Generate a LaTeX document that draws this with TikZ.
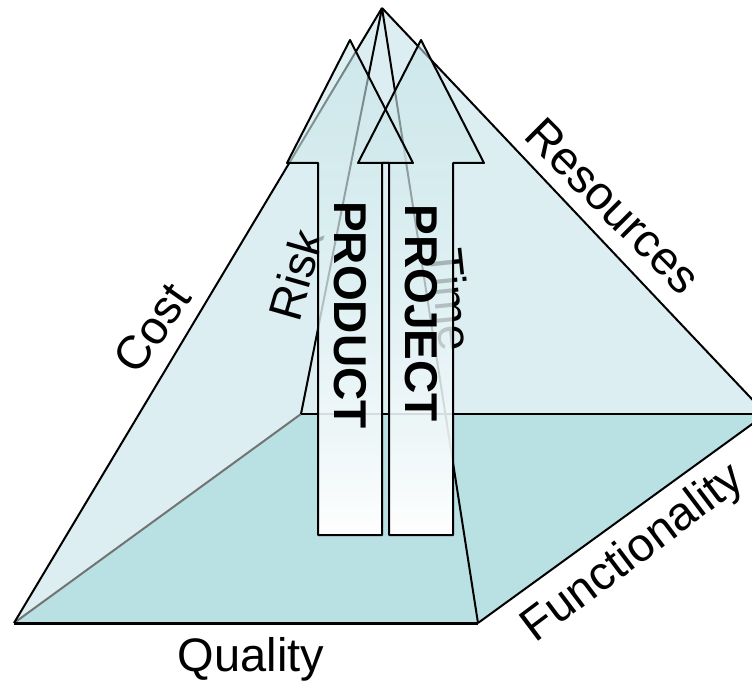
\documentclass[tikz,border=0pt]{standalone}
\usepackage{fontspec}
\setmainfont{Liberation Sans}
\usetikzlibrary{fadings}
\definecolor{facecol}{RGB}{220,238,241}
\definecolor{basecol}{RGB}{185,224,226}
\definecolor{headcol}{RGB}{196,228,232}
\tikzfading[name=arrowfade, top color=transparent!45, bottom color=transparent!0]
\begin{document}
\begin{tikzpicture}[x=1pt, y=-1pt, line join=round,
    edge/.style = {draw=black, line width=2pt},
    hidden/.style = {draw=black!55, line width=2pt},
    lbl/.style = {inner sep=0pt, font=\fontsize{47}{56}\selectfont},
    big/.style = {inner sep=0pt, font=\fontsize{46}{56}\selectfont\bfseries, rotate=-90},
    body/.style = {top color=headcol, bottom color=white, path fading=arrowfade, fit fading=true}]
    \useasboundingbox (0,0) rectangle (752,684);
    \coordinate (top) at (382,8);
    \coordinate (fl) at (14,623);
    \coordinate (fr) at (478,623);
    \coordinate (br) at (766,414);
    \coordinate (bl) at (301,414);
    % pyramid
    \fill[facecol] (top) -- (fl) -- (fr) -- (br) -- cycle;
    \fill[basecol] (fl) -- (fr) -- (br) -- (bl) -- cycle;
    \draw[hidden] (fl) -- (bl);
    \draw[edge] (top) -- (fl);
    \draw[edge] (top) -- (br);
    \draw[edge] (top) -- (bl);
    \draw[edge] (top) -- (fr);
    \draw[edge] (bl) -- (br);
    \draw[edge] (fr) -- (br);
    \draw[edge, line width=3pt] (fl) -- (fr);
    \node[lbl, rotate=55] (cost) at (152,328) {Cost};
    \node[lbl, rotate=-45] (res) at (613,206) {Resources};
    \node[lbl, rotate=37] (func) at (634,554) {Functionality};
    \node[lbl, anchor=base] (qual) at (251,671) {Quality};
    \node[lbl, rotate=74] (risk) at (296,275) {Risk};
    \node[lbl, rotate=-84] (time) at (452,300) {Time};
    % the two arrows
    \shade[body] (350,40) -- ++(63,123) -- ++(-31,0) -- ++(0,372) -- ++(-64,0) -- ++(0,-372) -- ++(-31,0) -- cycle;
    \shade[body] (421,40) -- ++(63,123) -- ++(-31,0) -- ++(0,372) -- ++(-64,0) -- ++(0,-372) -- ++(-31,0) -- cycle;
    \draw[edge] (350,40) -- ++(63,123) -- ++(-31,0) -- ++(0,372) -- ++(-64,0) -- ++(0,-372) -- ++(-31,0) -- cycle;
    \draw[edge] (421,40) -- ++(63,123) -- ++(-31,0) -- ++(0,372) -- ++(-64,0) -- ++(0,-372) -- ++(-31,0) -- cycle;
    \node[big] (prod) at (350,315) {PRODUCT};
    \node[big] (proj) at (421,313) {PROJECT};
\end{tikzpicture}
\end{document}
